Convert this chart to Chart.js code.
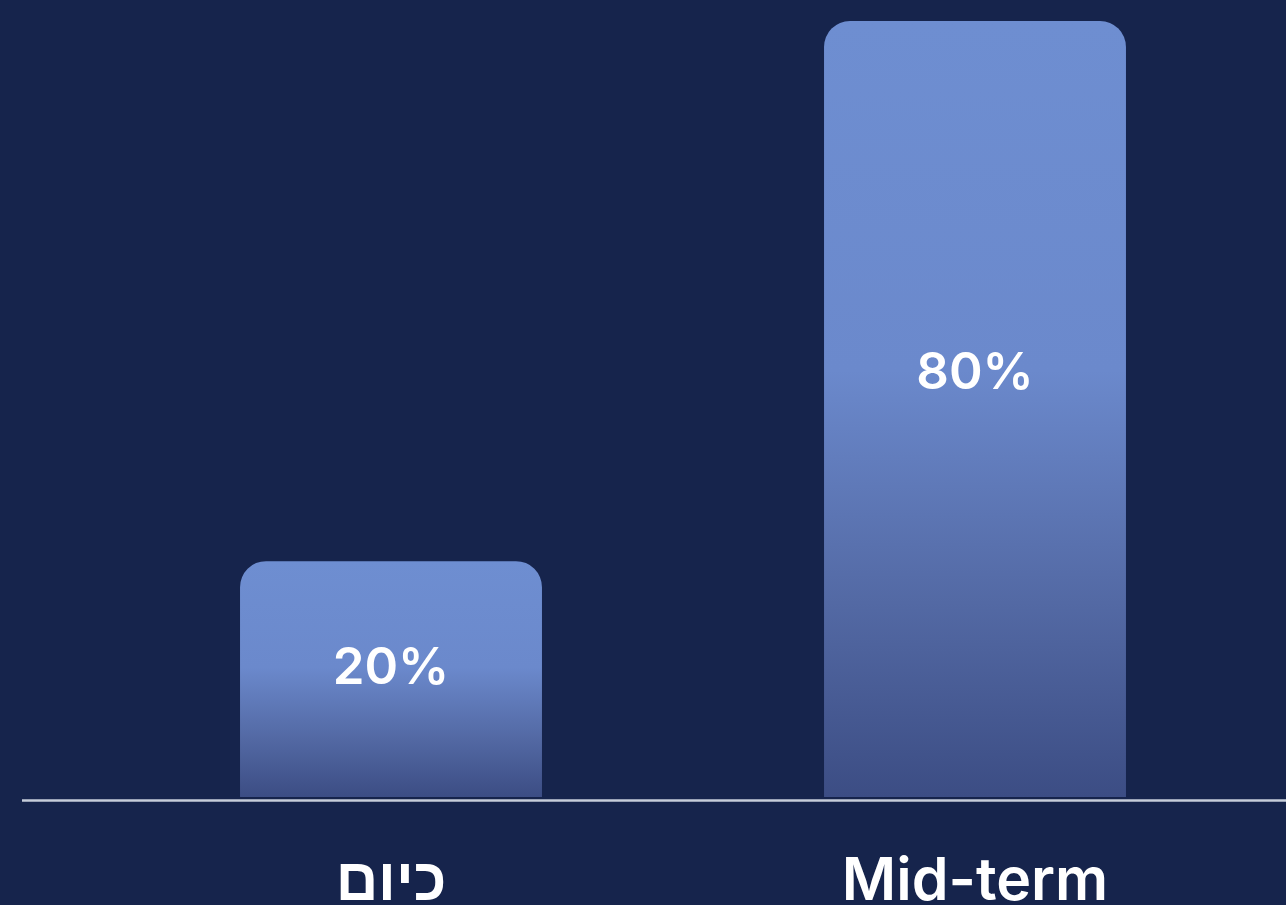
<!DOCTYPE html>
<html>
<head>
<meta charset="utf-8">
<script src="https://cdn.jsdelivr.net/npm/chart.js@4.4.1/dist/chart.umd.min.js"></script>
<style>
  html, body { margin: 0; padding: 0; background: #16244c; }
  #wrap { width: 1286px; height: 905px; }
</style>
</head>
<body>
<div id="wrap"><canvas id="barChart" width="1286" height="905"></canvas></div>
<script>
const categories = ['כיום', 'Mid-term'];
const shares = [20, 80];
const valueLabels = ['20%', '80%'];

const bgColor = '#16244c';
const baseValue = -6.2;

function barGradient(c) {
    const chart = c.chart;
    if (!chart.chartArea || c.type !== 'data') return '#6e8dd0';
    const y = chart.scales.y;
    const top = y.getPixelForValue(c.raw);
    const bottom = y.getPixelForValue(baseValue);
    const g = chart.ctx.createLinearGradient(0, top, 0, bottom);
    g.addColorStop(0, '#6e8ed1');
    g.addColorStop(0.45, '#6b89cc');
    g.addColorStop(0.75, '#5369a4');
    g.addColorStop(1, '#3c4d84');
    return g;
}

const decor = {
    id: 'decor',
    beforeDraw(chart) {
        const c = chart.ctx;
        c.save();
        c.fillStyle = bgColor;
        c.fillRect(0, 0, chart.width, chart.height);
        c.restore();
    },
    afterDatasetsDraw(chart) {
        const c = chart.ctx;
        const area = chart.chartArea;
        c.save();
        // base line
        c.strokeStyle = '#c6cdda';
        c.lineWidth = 2.5;
        c.beginPath();
        c.moveTo(22, area.bottom + 3.5);
        c.lineTo(chart.width, area.bottom + 3.5);
        c.stroke();
        // value labels inside bars
        c.fillStyle = '#ffffff';
        c.font = '600 51px Inter, "Liberation Sans", sans-serif';
        c.textAlign = 'center';
        c.textBaseline = 'middle';
        chart.getDatasetMeta(0).data.forEach((bar, i) => {
            const yy = bar.y + (bar.base - bar.y) * 0.455;
            c.fillText(valueLabels[i], bar.x, yy);
        });
        c.restore();
    }
};

new Chart(document.getElementById('barChart').getContext('2d'), {
    type: 'bar',
    data: {
        labels: categories,
        datasets: [{
            data: shares,
            base: baseValue,
            backgroundColor: barGradient,
            borderRadius: 26,
            borderSkipped: 'bottom',
            barPercentage: 1,
            categoryPercentage: 0.517
        }]
    },
    options: {
        responsive: false,
        animation: false,
        layout: { padding: { left: 99, right: 19, top: 21, bottom: 0 } },
        plugins: {
            legend: { display: false },
            tooltip: { enabled: false }
        },
        scales: {
            x: {
                grid: { display: false },
                border: { display: false },
                afterFit(scale) { scale.height = 108; },
                ticks: {
                    color: '#ffffff',
                    padding: 42,
                    font: { family: 'Inter, "Liberation Sans", sans-serif', size: 59, weight: '600', lineHeight: 1.2 }
                }
            },
            y: {
                display: false,
                min: baseValue,
                max: 80
            }
        }
    },
    plugins: [decor]
});
</script>
</body>
</html>
